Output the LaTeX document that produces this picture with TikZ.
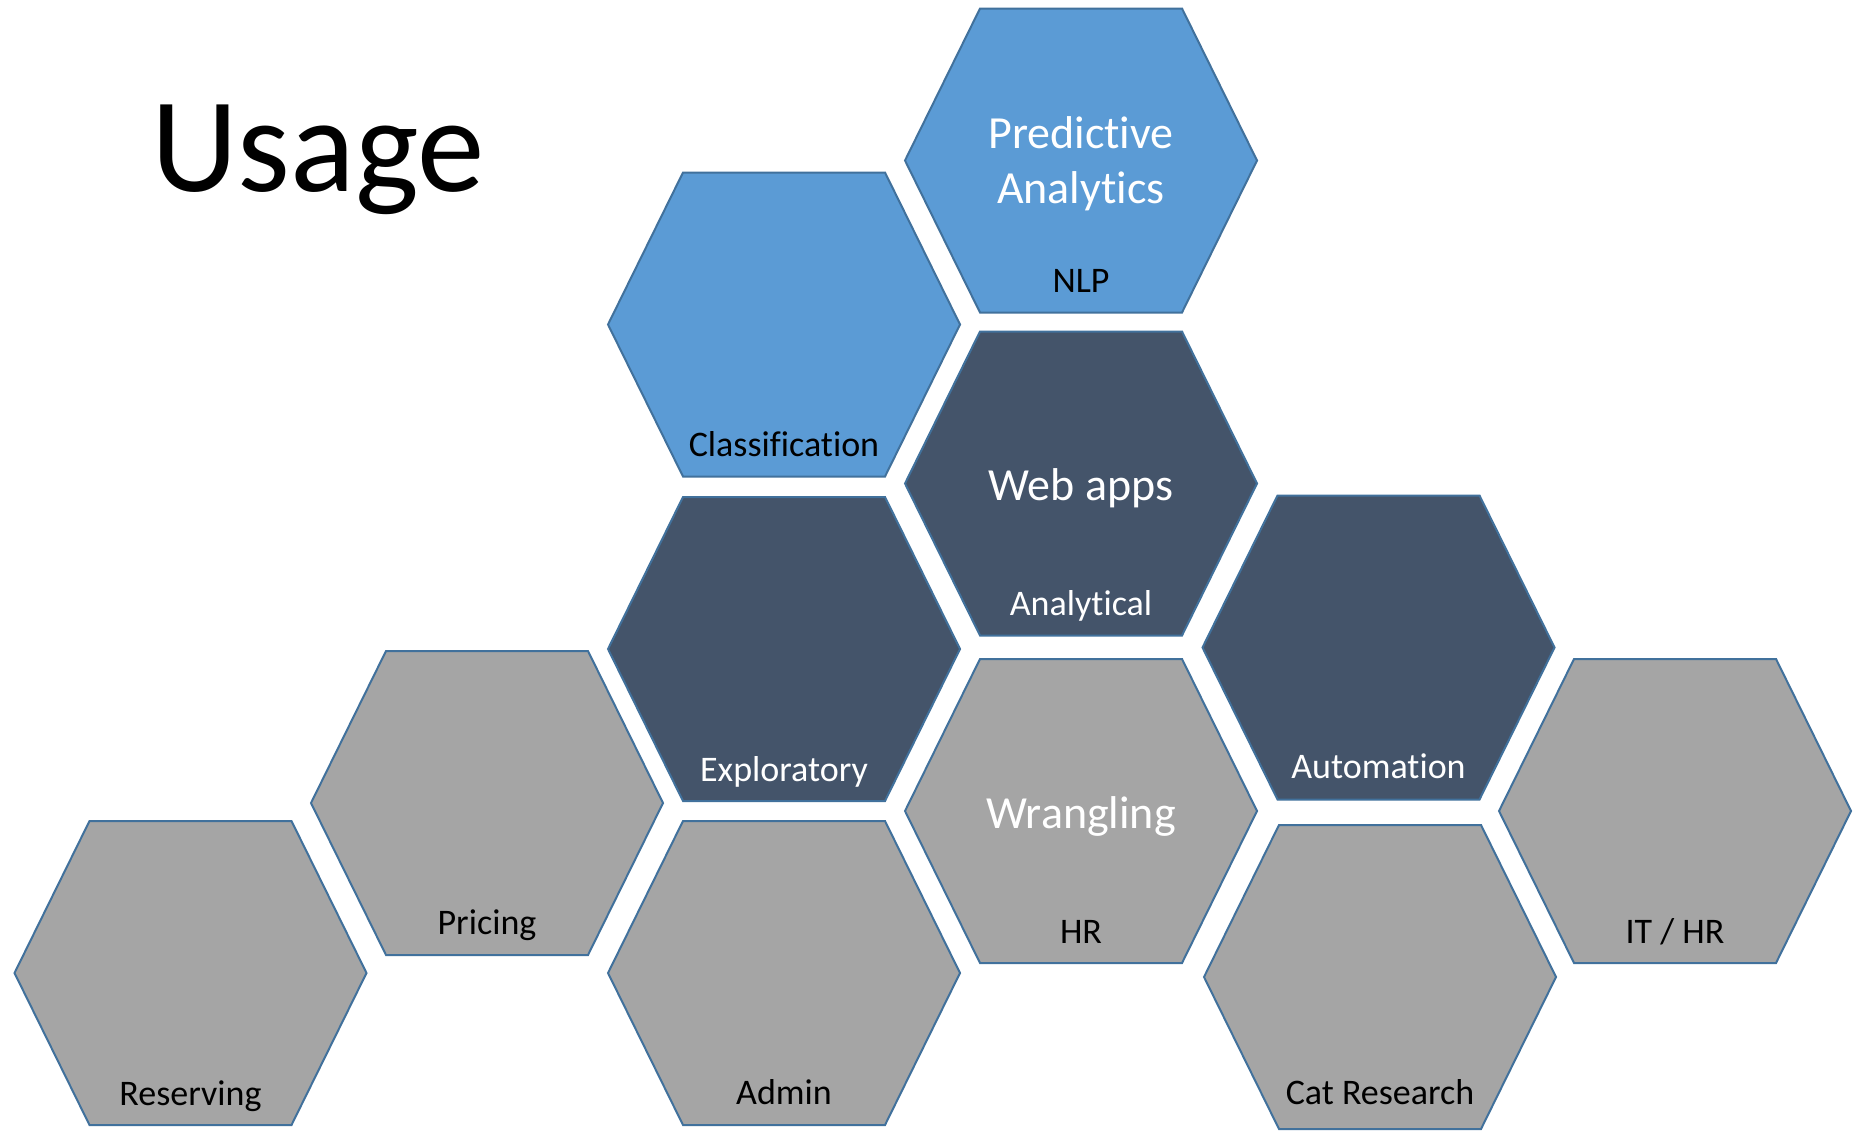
\documentclass[tikz,border=0pt]{standalone}
\usepackage{fontspec}
\setmainfont{Carlito}[RawFeature={-liga,-clig,-dlig,-calt}]
\usetikzlibrary{calc}
\definecolor{hexblue}{HTML}{5B9BD5}
\definecolor{hexdark}{HTML}{44546A}
\definecolor{hexgray}{HTML}{A5A5A5}
\definecolor{hexedge}{HTML}{41719C}
\tikzset{
  cellblue/.style={fill=hexblue, draw=hexedge, line width=2pt, line join=miter},
  celldark/.style={fill=hexdark, draw=hexedge, line width=2pt, line join=miter},
  cellgray/.style={fill=hexgray, draw=hexedge, line width=2pt, line join=miter},
  smalllbl/.style={anchor=base, inner sep=0pt, font=\fontsize{36}{43}\selectfont},
  biglbl/.style={anchor=base, inner sep=0pt, text=white, font=\fontsize{46}{55}\selectfont},
}
\newcommand\hexcell[3]{%
  \coordinate (#1) at #2;
  \path[#3, shift={(#1)}] (-101,-152) -- (101,-152) -- (176,0) -- (101,152) -- (-101,152) -- (-176,0) -- cycle;
}
\begin{document}
\begin{tikzpicture}[x=1pt, y=-1pt]
\useasboundingbox[fill=white] (0,0) rectangle (1863,1130);

\hexcell{pred}{(1081,160.5)}{cellblue}
\hexcell{class}{(784,324.5)}{cellblue}
\hexcell{web}{(1081,483.5)}{celldark}
\hexcell{expl}{(784,649)}{celldark}
\hexcell{auto}{(1378.5,647.5)}{celldark}
\hexcell{pric}{(487,803)}{cellgray}
\hexcell{wrang}{(1081,811)}{cellgray}
\hexcell{ithr}{(1675,811)}{cellgray}
\hexcell{resv}{(190.5,973)}{cellgray}
\hexcell{admin}{(784,973)}{cellgray}
\hexcell{cat}{(1380,977)}{cellgray}

\node[anchor=base west, inner sep=0pt, font=\fontsize{135}{155}\selectfont] (title) at (151,191) {Usage};

\node[biglbl] (predA) at ($(pred)+(0,-12)$) {Predictive};
\node[biglbl] (predB) at ($(pred)+(0,42.5)$) {Analytics};
\node[biglbl] (webt) at ($(web)+(0,16.5)$) {Web apps};
\node[biglbl] (wrangt) at ($(wrang)+(0,17)$) {Wrangling};

\node[smalllbl, text=black] (nlp) at ($(pred)+(0,132)$) {NLP};
\node[smalllbl, text=black] (classt) at ($(class)+(0,132)$) {Classification};
\node[smalllbl, text=white] (analyt) at ($(web)+(0,132)$) {Analytical};
\node[smalllbl, text=white] (explt) at ($(expl)+(0,132)$) {Exploratory};
\node[smalllbl, text=white] (autot) at ($(auto)+(0,131)$) {Automation};
\node[smalllbl, text=black] (prict) at ($(pric)+(0,131)$) {Pricing};
\node[smalllbl, text=black] (hrt) at ($(wrang)+(0,132)$) {HR};
\node[smalllbl, text=black] (ithrt) at ($(ithr)+(0,132)$) {IT / HR};
\node[smalllbl, text=black] (resvt) at ($(resv)+(0,132)$) {Reserving};
\node[smalllbl, text=black] (admint) at ($(admin)+(0,131)$) {Admin};
\node[smalllbl, text=black] (catt) at ($(cat)+(0,127)$) {Cat Research};
\end{tikzpicture}
\end{document}
